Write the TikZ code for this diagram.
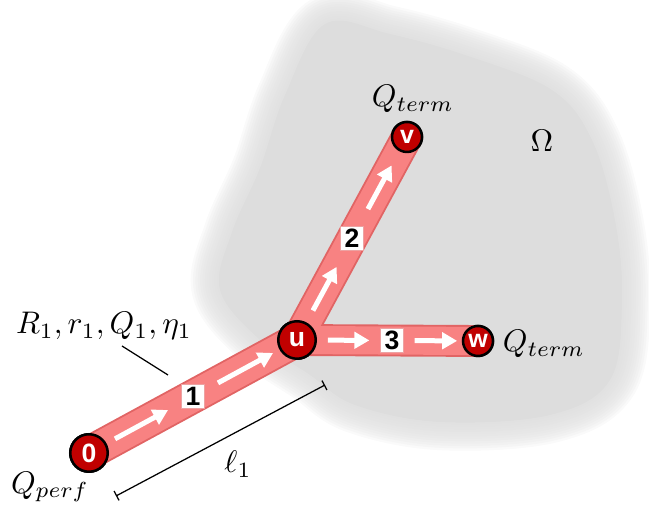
\documentclass[tikz,border=0pt]{standalone}
\usepackage{fontspec}
\newfontfamily\arialfont{Liberation Sans}
\usetikzlibrary{arrows.meta,calc}
\definecolor{blobgray}{RGB}{221,221,221}
\definecolor{tubefill}{RGB}{248,130,130}
\definecolor{tubeedge}{RGB}{225,100,100}
\definecolor{noded}{RGB}{192,0,0}
\begin{document}
\begin{tikzpicture}[x=0.32pt,y=-0.32pt,
  bignode/.style={circle,fill=noded,draw=black,line width=0.8pt,minimum size=12pt,inner sep=0pt,text=white,font=\arialfont\bfseries\fontsize{8.5}{9}\selectfont},
  smallnode/.style={bignode,minimum size=9.6pt,font=\arialfont\bfseries\fontsize{8}{9}\selectfont},
  numbox/.style={rectangle,fill=white,draw=tubeedge!60,line width=0.3pt,minimum size=7.6pt,inner sep=0pt,font=\arialfont\bfseries\fontsize{8.5}{9}\selectfont},
  tubeout/.style={tubeedge,line width=#1},
  tubein/.style={tubefill,line width=#1},
  flow/.style={white,line width=1.6pt,-{Triangle[length=4.8pt,width=5.2pt]}},
  dimline/.style={black,line width=0.4pt,{Bar[width=3.4pt]}-{Bar[width=3.4pt]}},
  leader/.style={black,line width=0.4pt}]
\useasboundingbox (0,0) rectangle (649,510);
% domain blob
\def\blob{plot[smooth cycle,tension=0.6] coordinates {(325,24) (390,34) (468,56) (552,90) (592,140) (615,220) (622,300) (610,380) (550,415) (440,422) (355,405) (310,375) (260,340) (220,290) (232,232) (260,168) (285,95)}}
\foreach \w in {18,16.5,15,13.5,12,10.5,9,7.5,6,4.5,3,1.5} {
  \draw[blobgray,line width=\w pt,opacity=0.16] \blob;
}
\fill[blobgray] \blob;
% nodes
\node[bignode] (n0) at (89,453) {0};
\node[bignode] (nu) at (297,340) {u};
\node[smallnode] (nv) at (407,137) {v};
\node[smallnode] (nw) at (478,341) {w};
% tubes
\draw[tubeout=11pt] (n0.center) -- (nu.center);
\draw[tubeout=10.2pt] (nu.center) -- (nv.center);
\draw[tubeout=10.2pt] (nu.center) -- (nw.center);
\draw[tubein=9.8pt] (n0.center) -- (nu.center);
\draw[tubein=9pt] (nu.center) -- (nv.center);
\draw[tubein=9pt] (nu.center) -- (nw.center);
% redraw nodes on top
\node[bignode] at (n0) {0};
\node[bignode] at (nu) {u};
\node[smallnode] at (nv) {v};
\node[smallnode] at (nw) {w};
% flow arrows
\draw[flow] ($(n0)!0.125!(nu)$) -- ($(n0)!0.38!(nu)$);
\draw[flow] ($(n0)!0.62!(nu)$) -- ($(n0)!0.885!(nu)$);
\draw[flow] ($(nu)!0.145!(nv)$) -- ($(nu)!0.36!(nv)$);
\draw[flow] ($(nu)!0.645!(nv)$) -- ($(nu)!0.86!(nv)$);
\draw[flow] ($(nu)!0.17!(nw)$) -- ($(nu)!0.40!(nw)$);
\draw[flow] ($(nu)!0.65!(nw)$) -- ($(nu)!0.885!(nw)$);
% segment numbers
\node[numbox] (b1) at ($(n0)!0.5!(nu)$) {1};
\node[numbox] (b2) at ($(nu)!0.5!(nv)$) {2};
\node[numbox] (b3) at ($(nu)!0.525!(nw)$) {3};
% labels
\node (qt1) at (413,99) {$Q_{term}$};
\node (qt2) at (544,344) {$Q_{term}$};
\node (qp) at (50,487) {$Q_{perf}$};
\node (om) at (542,141) {$\Omega$};
\node (lr) at (104,326) {$R_1, r_1, Q_1, \eta_1$};
\node (ll) at (238,464) {$\ell_1$};
% leader and dimension
\coordinate (la) at (122,346);
\coordinate (lb) at (168,375);
\draw[leader] (la) -- (lb);
\coordinate (d1) at (116,496);
\coordinate (d2) at (325,385);
\draw[dimline] (d1) -- (d2);
\end{tikzpicture}
\end{document}
